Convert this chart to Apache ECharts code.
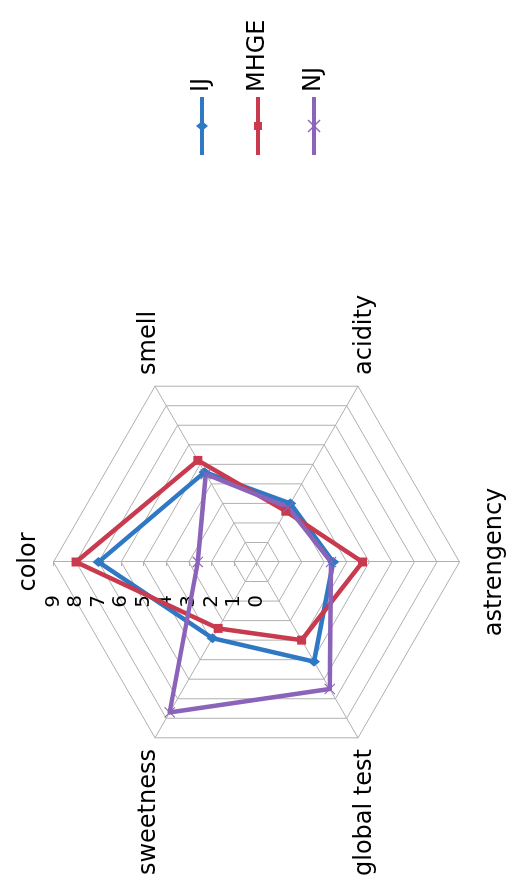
<!DOCTYPE html>
<html>
<head>
<meta charset="utf-8">
<script src="https://cdn.jsdelivr.net/npm/echarts@6/dist/echarts.min.js"></script>
<style>
  html, body { margin: 0; padding: 0; background: #ffffff; overflow: hidden; }
  #page { position: relative; width: 506px; height: 891px; overflow: hidden; }
  /* The chart is laid out landscape (891 x 506) and turned a quarter turn
     counter-clockwise so that it stands upright on the portrait page. */
  #chart {
    position: absolute; left: 0; top: 0;
    width: 891px; height: 506px;
    transform-origin: 0 0;
    transform: translateY(891px) rotate(-90deg);
  }
</style>
</head>
<body>
<div id="page"><div id="chart"></div></div>
<script>
// Sensory attributes, in clockwise order starting from the top spoke
const categories = ['color', 'smell', 'acidity', 'astrengency', 'global test', 'sweetness'];

// Mean panel scores per sample
const seriesNames = ['IJ', 'MHGE', 'NJ'];
const ijScores   = [7.0, 4.6, 3.0, 3.4, 5.1, 3.9];
const mhgeScores = [8.0, 5.2, 2.6, 4.7, 4.0, 3.4];
const njScores   = [2.6, 4.5, 2.8, 3.3, 6.5, 7.7];

// Scale labels printed along the "color" spoke
const scaleLabels = ['0', '1', '2', '3', '4', '5', '6', '7', '8', '9'];

const seriesColors = ['#2f78c4', '#c93a4e', '#8b63b8'];

const FONT = 'DejaVu Sans';
const CX = 329, CY = 256.5, R = 203;
const scaleMax = Number(scaleLabels[scaleLabels.length - 1]);

// ECharts lays radar indicators out counter-clockwise; reverse the tail so
// the attributes run clockwise from the top.
function clockwise(arr) {
  return [arr[0]].concat(arr.slice(1).reverse());
}

// Legend glyphs: a thick line segment with the series marker on it
const legendIcons = [
  'path://M0,5 H58 V9 H0 Z M29,1 L34,7 L29,13 L24,7 Z',
  'path://M0,5 H58 V9 H0 Z M25,3 H33 V11 H25 Z',
  'path://M0,5 H58 V9 H0 Z M23.5,0.5 L35.5,12.5 L34.5,13.5 L22.5,1.5 Z M34.5,0.5 L35.5,1.5 L23.5,13.5 L22.5,12.5 Z'
];
const markerSymbols = [
  'diamond',
  'rect',
  'path://M0.7,0 L10,9.3 L9.3,10 L0,0.7 Z M9.3,0 L10,0.7 L0.7,10 L0,9.3 Z'
];
const markerSizes = [[10, 12], 9, 11];

const scoreSets = [ijScores, mhgeScores, njScores];

const chart = echarts.init(document.getElementById('chart'), null, { renderer: 'canvas' });

chart.setOption({
  backgroundColor: '#ffffff',
  animation: false,
  textStyle: { fontFamily: FONT },
  legend: {
    orient: 'vertical',
    left: 736,
    top: 190,
    padding: 0,
    itemWidth: 58,
    itemHeight: 14,
    itemGap: 32,
    selectedMode: false,
    textStyle: { fontFamily: FONT, fontSize: 24, color: '#000000' },
    data: seriesNames.map((name, i) => ({ name: name, icon: legendIcons[i] }))
  },
  radar: {
    center: [CX, CY],
    radius: R,
    shape: 'polygon',
    splitNumber: scaleLabels.length - 1,
    nameGap: 13,
    axisName: {
      color: '#000000', fontFamily: FONT, fontSize: 24,
      // the bottom spoke's label sits a little further out
      formatter: name => name === 'astrengency' ? '{low|' + name + '}' : name,
      rich: { low: { fontFamily: FONT, fontSize: 24, color: '#000000', padding: [10, 0, 0, 0] } }
    },
    splitLine: { lineStyle: { color: '#b0b0b0', width: 1 } },
    splitArea: { show: false },
    axisLine: { lineStyle: { color: '#b0b0b0', width: 1 } },
    axisTick: { show: false },
    axisLabel: { show: false },
    indicator: clockwise(categories).map(name => ({ name: name, min: 0, max: scaleMax }))
  },
  // A bare vertical axis laid over the top spoke carries the scale labels
  grid: { left: CX, top: CY - R, height: R, width: 1 },
  xAxis: { type: 'value', show: false },
  yAxis: {
    type: 'category',
    data: scaleLabels,
    boundaryGap: false,
    axisLine: { show: false },
    axisTick: { show: true, length: 4, lineStyle: { color: '#b0b0b0' } },
    axisLabel: { margin: 33, color: '#000000', fontFamily: FONT, fontSize: 20, interval: 0 },
    splitLine: { show: false }
  },
  series: [{
    type: 'radar',
    data: seriesNames.map((name, i) => ({
      name: name,
      value: clockwise(scoreSets[i]),
      symbol: markerSymbols[i],
      symbolSize: markerSizes[i],
      lineStyle: { color: seriesColors[i], width: 4.5 },
      itemStyle: { color: seriesColors[i] }
    }))
  }]
});
</script>
</body>
</html>
